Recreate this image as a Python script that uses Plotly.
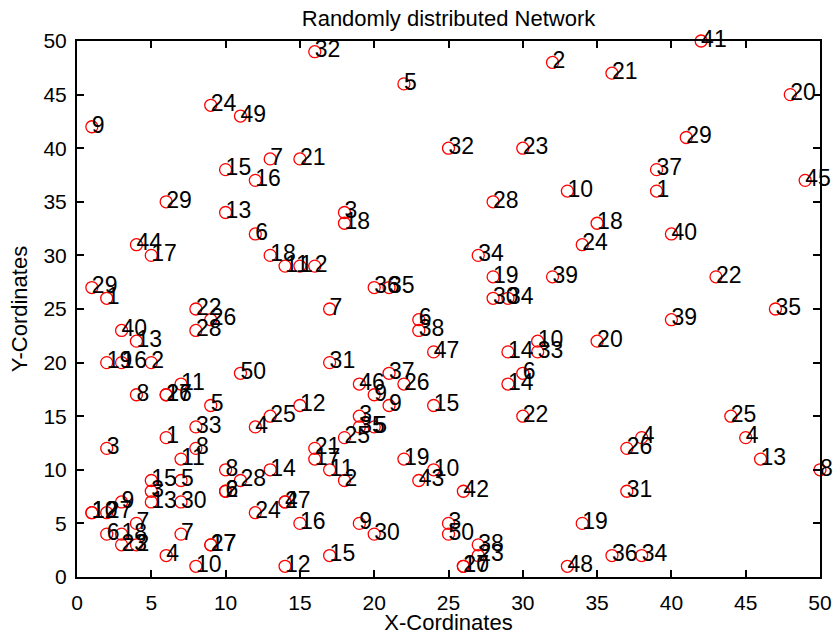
import plotly.graph_objects as go

# Node positions (integer grid) and their node numbers
node_x = [16, 22, 32, 36, 42, 48,
          1, 9, 11, 25, 30, 41,
          10, 13, 15, 12, 39, 49,
          6, 10, 18, 18, 33, 39,
          28, 35, 12, 4, 5, 13,
          14, 15, 16, 34, 27, 40,
          1, 2, 20, 21, 28, 32, 43,
          28, 29, 8, 9, 8, 17, 23, 23,
          47, 40, 3, 4, 24, 29, 31, 31,
          35, 2, 3, 5, 17, 11, 21, 30,
          29, 4, 6, 6, 7, 19, 22, 20,
          9, 15, 21, 24, 30, 13, 19, 44,
          8, 12, 19, 20, 6, 18, 38, 45,
          2, 8, 16, 37, 7, 16, 22, 46,
          10, 13, 17, 24, 50, 5, 7, 11,
          18, 23, 5, 10, 10, 26, 37, 3, 5,
          7, 14, 14, 1, 1, 2, 12, 4, 15,
          19, 25, 34, 2, 3, 7, 20, 25,
          3, 4, 9, 9, 27, 6, 17, 27, 36, 38,
          8, 14, 26, 26, 33]
node_y = [49, 46, 48, 47, 50, 45,
          42, 44, 43, 40, 40, 41,
          38, 39, 39, 37, 38, 37,
          35, 34, 34, 33, 36, 36,
          35, 33, 32, 31, 30, 30,
          29, 29, 29, 31, 30, 32,
          27, 26, 27, 27, 28, 28, 28,
          26, 26, 25, 24, 23, 25, 24, 23,
          25, 24, 23, 22, 21, 21, 22, 21,
          22, 20, 20, 20, 20, 19, 19, 19,
          18, 17, 17, 17, 18, 18, 18, 17,
          16, 16, 16, 16, 15, 15, 15, 15,
          14, 14, 14, 14, 13, 13, 13, 13,
          12, 12, 12, 12, 11, 11, 11, 11,
          10, 10, 10, 10, 10, 9, 9, 9,
          9, 9, 8, 8, 8, 8, 8, 7, 7,
          7, 7, 7, 6, 6, 6, 6, 5, 5,
          5, 5, 5, 4, 4, 4, 4, 4,
          3, 3, 3, 3, 3, 2, 2, 2, 2, 2,
          1, 1, 1, 1, 1]
node_id = [32, 5, 2, 21, 41, 20,
           9, 24, 49, 32, 23, 29,
           15, 7, 21, 16, 37, 45,
           29, 13, 3, 18, 10, 1,
           28, 18, 6, 44, 17, 18,
           11, 1, 2, 24, 34, 40,
           29, 1, 36, 35, 19, 39, 22,
           30, 34, 22, 26, 28, 7, 6, 38,
           35, 39, 40, 13, 47, 14, 10, 33,
           20, 19, 16, 2, 31, 50, 37, 6,
           14, 8, 26, 17, 11, 46, 26, 9,
           5, 12, 9, 15, 22, 25, 3, 25,
           33, 4, 35, 5, 1, 25, 4, 4,
           3, 8, 21, 26, 11, 17, 19, 13,
           8, 14, 11, 10, 8, 15, 5, 28,
           2, 43, 3, 6, 2, 42, 31, 9, 13,
           30, 4, 27, 10, 12, 27, 24, 7, 16,
           9, 3, 19, 6, 18, 7, 30, 50,
           23, 2, 17, 27, 38, 4, 15, 23, 36, 34,
           10, 12, 20, 17, 48]

x_ticks = list(range(0, 51, 5))
y_ticks = list(range(0, 51, 5))

FONT = "Liberation Sans, Arial, sans-serif"

fig = go.Figure()
fig.add_trace(go.Scatter(
    x=node_x, y=node_y, mode="markers",
    marker=dict(symbol="circle-open", size=12, color="#ff0000",
                line=dict(width=1.3, color="#ff0000")),
    hoverinfo="skip", showlegend=False, cliponaxis=False,
))
fig.add_trace(go.Scatter(
    x=node_x, y=node_y, mode="text",
    text=[str(n) for n in node_id], textposition="middle right",
    textfont=dict(family=FONT, size=23, color="black"),
    hoverinfo="skip", showlegend=False, cliponaxis=False,
))

axis_common = dict(
    showgrid=False, zeroline=False, showline=True, linecolor="black",
    linewidth=2, mirror="ticks", ticks="inside", ticklen=7,
    tickcolor="black", tickwidth=1.5, automargin=False,
    tickfont=dict(family=FONT, size=21, color="black"),
)
fig.update_xaxes(range=[0, 50], tickvals=x_ticks, ticklabelstandoff=6,
                 title=dict(text="X-Cordinates", standoff=2,
                            font=dict(family=FONT, size=22, color="black")),
                 **axis_common)
fig.update_yaxes(range=[0, 50], tickvals=y_ticks, ticklabelstandoff=4,
                 title=dict(text="Y-Cordinates", standoff=10,
                            font=dict(family=FONT, size=22, color="black")),
                 **axis_common)

fig.update_layout(
    width=833, height=635,
    margin=dict(l=77, r=13, t=41, b=58, autoexpand=False),
    paper_bgcolor="white", plot_bgcolor="white",
    title=dict(text="Randomly distributed Network", x=0.5, xanchor="center",
               xref="paper", y=1 - 18 / 635, yanchor="middle",
               font=dict(family=FONT, size=22, color="black")),
)

fig.write_html("out.html")
